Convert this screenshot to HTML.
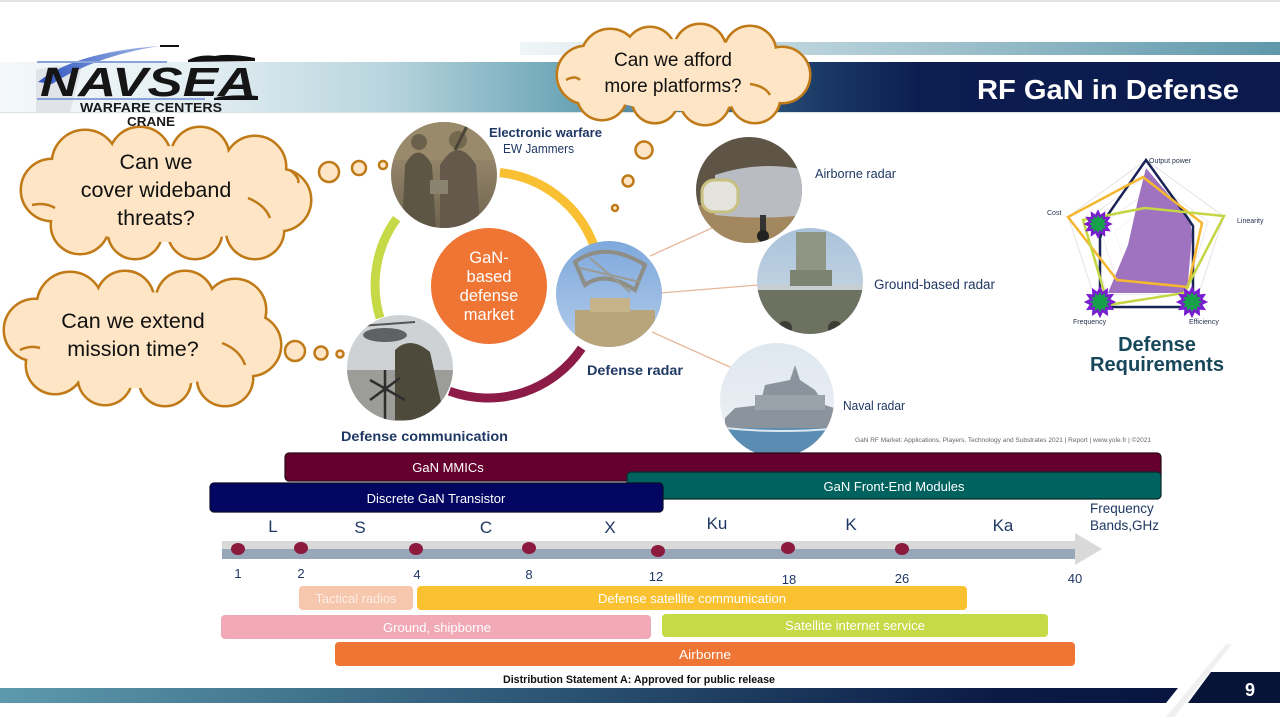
<!DOCTYPE html>
<html><head><meta charset="utf-8"><style>
html,body{margin:0;padding:0;background:#fff;}
body{width:1280px;height:717px;overflow:hidden;}
svg{display:block;font-family:"Liberation Sans",sans-serif;}
</style></head><body>
<svg width="1280" height="717" viewBox="0 0 1280 717" xmlns="http://www.w3.org/2000/svg">
<defs>
<linearGradient id="band" x1="0" x2="1" y1="0" y2="0">
<stop offset="0" stop-color="#f4f8fa"/><stop offset="0.15" stop-color="#e4eff3"/><stop offset="0.3" stop-color="#b9d5de"/><stop offset="0.44" stop-color="#6ea7b8"/><stop offset="0.56" stop-color="#3c6d8d"/><stop offset="0.64" stop-color="#1b3a67"/><stop offset="0.72" stop-color="#0c1d50"/><stop offset="1" stop-color="#0a1a4c"/>
</linearGradient>
<linearGradient id="thin" x1="0" x2="1"><stop offset="0" stop-color="#f0f6f8"/><stop offset="1" stop-color="#5f98ab"/></linearGradient>
<linearGradient id="bot" x1="0" x2="1"><stop offset="0" stop-color="#5d9aad"/><stop offset="0.45" stop-color="#2d5775"/><stop offset="0.85" stop-color="#0a1a45"/><stop offset="1" stop-color="#081640"/></linearGradient>
<linearGradient id="swoosh" x1="0" x2="1"><stop offset="0" stop-color="#2f55c0"/><stop offset="1" stop-color="#a9bde8"/></linearGradient>
<linearGradient id="ewg" x1="0" x2="0" y1="0" y2="1"><stop offset="0" stop-color="#a99778"/><stop offset="1" stop-color="#6d634f"/></linearGradient>
<linearGradient id="sky1" x1="0" x2="0" y1="0" y2="1"><stop offset="0" stop-color="#7ea8dc"/><stop offset="1" stop-color="#b4cdea"/></linearGradient>
<linearGradient id="sky2" x1="0" x2="0" y1="0" y2="1"><stop offset="0" stop-color="#a9c2da"/><stop offset="1" stop-color="#d1dde6"/></linearGradient>
<linearGradient id="sky3" x1="0" x2="0" y1="0" y2="1"><stop offset="0" stop-color="#dfe7ef"/><stop offset="1" stop-color="#eef2f5"/></linearGradient>
<clipPath id="cEW"><circle cx="444" cy="175" r="53"/></clipPath>
<clipPath id="cRad"><circle cx="609" cy="294" r="53"/></clipPath>
<clipPath id="cCom"><circle cx="400" cy="368" r="53"/></clipPath>
<clipPath id="cAir"><circle cx="749" cy="190" r="53"/></clipPath>
<clipPath id="cGnd"><circle cx="810" cy="281" r="53"/></clipPath>
<clipPath id="cNav"><circle cx="777" cy="400" r="57"/></clipPath>
<polygon id="star" points="12,0 7.7,2.1 10.4,6 5.7,5.7 6,10.4 2.1,7.7 0,12 -2.1,7.7 -6,10.4 -5.7,5.7 -10.4,6 -7.7,2.1 -12,0 -7.7,-2.1 -10.4,-6 -5.7,-5.7 -6,-10.4 -2.1,-7.7 0,-12 2.1,-7.7 6,-10.4 5.7,-5.7 10.4,-6 7.7,-2.1"/>
<polygon id="pent" points="0,-81.8 77.8,-25.3 48.1,66.2 -48.1,66.2 -77.8,-25.3"/>
</defs>

<rect x="0" y="0" width="1280" height="2" fill="#e4e4e4"/>
<rect x="520" y="42" width="760" height="13" fill="url(#thin)"/>
<rect x="0" y="62" width="1280" height="50" fill="url(#band)"/>
<rect x="0" y="112" width="1280" height="1" fill="#d8e4ea"/>

<!-- NAVSEA logo -->
<path d="M36,112 L36,70 Q60,64 82,66 L70,112 Z" fill="#dcdfe2" opacity="0.8"/>
<path d="M38,82 Q75,52 160,46 Q95,56 52,84 Z" fill="url(#swoosh)"/>
<rect x="160" y="45" width="19" height="2" fill="#111"/>
<rect x="37" y="61" width="130" height="2" fill="#8aa3d8"/>
<rect x="37" y="98" width="168" height="2" fill="#8aa3d8"/>
<path d="M188,60 Q200,54 215,56 Q230,53 255,58 L255,61 L188,62 Z" fill="#111"/>
<path d="M214,98 Q230,94 258,96 L258,100 L214,100 Z" fill="#111"/>
<text x="40" y="96" font-size="41" font-weight="bold" font-style="italic" fill="#151515" textLength="216" lengthAdjust="spacingAndGlyphs">NAVSEA</text>
<text x="151" y="112" font-size="12.5" font-weight="bold" fill="#1a1a1a" text-anchor="middle" textLength="142" lengthAdjust="spacingAndGlyphs">WARFARE  CENTERS</text>

<text x="1108" y="99" font-size="28" font-weight="bold" fill="#fff" text-anchor="middle" textLength="262" lengthAdjust="spacingAndGlyphs">RF GaN in Defense</text>

<!-- clouds -->
<g stroke="#c07a18" stroke-width="5" fill="#fde5c5">
 <circle cx="586" cy="75" r="28"/><circle cx="610" cy="58" r="28"/><circle cx="650" cy="52" r="24"/><circle cx="700" cy="50" r="25"/><circle cx="750" cy="52" r="25"/><circle cx="782" cy="75" r="27"/><circle cx="755" cy="98" r="24"/><circle cx="705" cy="100" r="24"/><circle cx="655" cy="100" r="22"/><circle cx="602" cy="95" r="24"/>
 <circle cx="52" cy="190" r="30"/><circle cx="85" cy="163" r="32"/><circle cx="140" cy="158" r="30"/><circle cx="200" cy="156" r="28"/><circle cx="255" cy="167" r="30"/><circle cx="280" cy="200" r="30"/><circle cx="255" cy="230" r="28"/><circle cx="195" cy="232" r="26"/><circle cx="135" cy="232" r="26"/><circle cx="80" cy="225" r="28"/>
 <circle cx="35" cy="330" r="30"/><circle cx="70" cy="305" r="32"/><circle cx="125" cy="300" r="28"/><circle cx="185" cy="300" r="28"/><circle cx="235" cy="310" r="30"/><circle cx="250" cy="345" r="30"/><circle cx="225" cy="378" r="27"/><circle cx="165" cy="380" r="25"/><circle cx="105" cy="378" r="26"/><circle cx="55" cy="365" r="28"/>
</g>
<g fill="#fde5c5">
 <circle cx="586" cy="75" r="28"/><circle cx="610" cy="58" r="28"/><circle cx="650" cy="52" r="24"/><circle cx="700" cy="50" r="25"/><circle cx="750" cy="52" r="25"/><circle cx="782" cy="75" r="27"/><circle cx="755" cy="98" r="24"/><circle cx="705" cy="100" r="24"/><circle cx="655" cy="100" r="22"/><circle cx="602" cy="95" r="24"/><ellipse cx="682" cy="75" rx="100" ry="36"/>
 <circle cx="52" cy="190" r="30"/><circle cx="85" cy="163" r="32"/><circle cx="140" cy="158" r="30"/><circle cx="200" cy="156" r="28"/><circle cx="255" cy="167" r="30"/><circle cx="280" cy="200" r="30"/><circle cx="255" cy="230" r="28"/><circle cx="195" cy="232" r="26"/><circle cx="135" cy="232" r="26"/><circle cx="80" cy="225" r="28"/><ellipse cx="165" cy="194" rx="125" ry="48"/>
 <circle cx="35" cy="330" r="30"/><circle cx="70" cy="305" r="32"/><circle cx="125" cy="300" r="28"/><circle cx="185" cy="300" r="28"/><circle cx="235" cy="310" r="30"/><circle cx="250" cy="345" r="30"/><circle cx="225" cy="378" r="27"/><circle cx="165" cy="380" r="25"/><circle cx="105" cy="378" r="26"/><circle cx="55" cy="365" r="28"/><ellipse cx="140" cy="340" rx="115" ry="48"/>
</g>
<g fill="none" stroke="#c07a18" stroke-width="2.5">
 <path d="M566,80 Q575,75 580,80"/><path d="M750,84 Q765,86 770,95"/>
 <path d="M32,205 Q45,202 55,208"/><path d="M248,198 Q265,205 270,218"/><path d="M290,170 Q300,178 298,183"/>
 <path d="M20,350 Q30,345 40,348"/><path d="M222,343 Q240,350 245,365"/>
</g>
<text x="151" y="126" font-size="12.5" font-weight="bold" fill="#1a1a1a" text-anchor="middle" textLength="48" lengthAdjust="spacingAndGlyphs">CRANE</text>
<g font-size="19" fill="#111" text-anchor="middle">
 <text x="673" y="66">Can we afford</text>
 <text x="673" y="92">more platforms?</text>
</g>
<g font-size="21.5" fill="#111" text-anchor="middle">
 <text x="156" y="169">Can we</text>
 <text x="156" y="197">cover wideband</text>
 <text x="156" y="225">threats?</text>
 <text x="133" y="328">Can we extend</text>
 <text x="133" y="356">mission time?</text>
</g>
<g fill="#fde5c5" stroke="#c07a18" stroke-width="2.5">
 <circle cx="329" cy="172" r="10"/><circle cx="359" cy="168" r="7"/><circle cx="383" cy="165" r="4"/>
 <circle cx="295" cy="351" r="10"/><circle cx="321" cy="353" r="6.5"/><circle cx="340" cy="354" r="3.5"/>
 <circle cx="644" cy="150" r="8.5"/><circle cx="628" cy="181" r="5.5"/><circle cx="615" cy="208" r="3"/>
</g>

<!-- ring arcs -->
<g fill="none" stroke-width="9">
 <path d="M499.8,172.6 A113,113 0 0 1 593.5,244.5" stroke="#f9c033"/>
 <path d="M396.6,218.6 A113,113 0 0 0 380,318" stroke="#c6d947"/>
 <path d="M449.4,391.2 A113,113 0 0 0 581.7,348.2" stroke="#8c1c47"/>
</g>
<g stroke="#e6b89c" stroke-width="1.3">
 <line x1="650" y1="256" x2="712" y2="228"/>
 <line x1="660" y1="293" x2="758" y2="285"/>
 <line x1="652" y1="332" x2="732" y2="368"/>
</g>
<circle cx="489" cy="286" r="58" fill="#ee7533"/>
<g font-size="16.5" fill="#fff" text-anchor="middle">
 <text x="489" y="263">GaN-</text><text x="489" y="282">based</text><text x="489" y="301">defense</text><text x="489" y="320">market</text>
</g>

<!-- photos -->
<g clip-path="url(#cEW)">
 <rect x="390" y="120" width="110" height="110" fill="url(#ewg)"/>
 <rect x="390" y="120" width="110" height="40" fill="#9a8a6c"/>
 <path d="M405,165 Q418,140 432,165 L436,230 L402,230 Z" fill="#5e5644"/>
 <circle cx="419" cy="142" r="8" fill="#6a604c"/>
 <path d="M440,165 Q458,135 476,165 L480,230 L440,230 Z" fill="#64594a"/>
 <circle cx="458" cy="140" r="9" fill="#73694f"/>
 <rect x="430" y="180" width="18" height="14" fill="#8a8370"/>
 <line x1="455" y1="150" x2="470" y2="120" stroke="#4a4538" stroke-width="3"/>
</g>
<g clip-path="url(#cRad)">
 <rect x="555" y="240" width="110" height="110" fill="url(#sky1)"/>
 <path d="M575,262 Q605,240 645,265 L635,290 Q605,270 585,285 Z" fill="none" stroke="#8e8e86" stroke-width="4"/>
 <path d="M580,268 L640,282 M590,258 L630,292" stroke="#9b9a92" stroke-width="2"/>
 <rect x="575" y="310" width="80" height="40" fill="#b9a57c"/>
 <rect x="590" y="298" width="40" height="14" fill="#c7b38a"/>
</g>
<g clip-path="url(#cCom)">
 <rect x="345" y="315" width="110" height="110" fill="#cfd2d5"/>
 <rect x="345" y="370" width="110" height="55" fill="#9c9c98"/>
 <ellipse cx="385" cy="335" rx="22" ry="7" fill="#5f6264"/>
 <line x1="360" y1="326" x2="415" y2="322" stroke="#555" stroke-width="2"/>
 <path d="M395,350 Q410,335 430,352 L445,420 L395,420 Z" fill="#4e4a3b"/>
 <path d="M370,380 L405,400 M370,400 L400,378 M385,370 L385,420" stroke="#2e2e2e" stroke-width="2.5"/>
</g>
<g clip-path="url(#cAir)">
 <rect x="695" y="135" width="110" height="110" fill="#5e5546"/>
 <rect x="695" y="205" width="110" height="40" fill="#a3875f"/>
 <path d="M715,175 Q760,160 805,170 L805,215 Q760,220 715,215 Z" fill="#b9bdc3"/>
 <rect x="702" y="180" width="36" height="32" rx="12" fill="#e4e4dc" stroke="#c8c080" stroke-width="3"/>
 <rect x="760" y="215" width="6" height="25" fill="#333"/>
 <circle cx="763" cy="236" r="6" fill="#222"/>
</g>
<g clip-path="url(#cGnd)">
 <rect x="755" y="226" width="110" height="110" fill="url(#sky2)"/>
 <rect x="755" y="285" width="110" height="12" fill="#c6ced4"/>
 <rect x="796" y="232" width="30" height="40" fill="#8f9683"/>
 <rect x="790" y="270" width="42" height="16" fill="#7d8371"/>
 <rect x="755" y="290" width="110" height="45" fill="#6d7260"/>
 <circle cx="785" cy="328" r="7" fill="#3c3e36"/><circle cx="835" cy="328" r="7" fill="#3c3e36"/>
</g>
<g clip-path="url(#cNav)">
 <rect x="718" y="342" width="118" height="118" fill="url(#sky3)"/>
 <path d="M725,418 L735,408 L760,405 L765,385 L790,380 L795,365 L800,380 L815,390 L825,405 L840,410 L840,430 L725,430 Z" fill="#8b939c"/>
 <rect x="755" y="395" width="70" height="15" fill="#9aa2aa"/>
 <rect x="718" y="428" width="118" height="32" fill="#5b8db3"/>
 <path d="M725,428 Q780,434 840,428" stroke="#dfe8ee" stroke-width="2" fill="none"/>
</g>

<g fill="#1f3864">
 <text x="489" y="137" font-size="13" font-weight="bold" textLength="113" lengthAdjust="spacingAndGlyphs">Electronic warfare</text>
 <text x="503" y="153" font-size="12.5" textLength="71" lengthAdjust="spacingAndGlyphs">EW Jammers</text>
 <text x="587" y="375" font-size="14" font-weight="bold" textLength="96" lengthAdjust="spacingAndGlyphs">Defense radar</text>
 <text x="341" y="441" font-size="14" font-weight="bold" textLength="167" lengthAdjust="spacingAndGlyphs">Defense communication</text>
 <text x="815" y="178" font-size="12.5" textLength="81" lengthAdjust="spacingAndGlyphs">Airborne radar</text>
 <text x="874" y="289" font-size="13.5" textLength="121" lengthAdjust="spacingAndGlyphs">Ground-based radar</text>
 <text x="843" y="410" font-size="12.5" textLength="62" lengthAdjust="spacingAndGlyphs">Naval radar</text>
</g>
<text x="855" y="442" font-size="6.5" fill="#666" textLength="296" lengthAdjust="spacingAndGlyphs">GaN RF Market: Applications, Players, Technology and Substrates 2021 | Report | www.yole.fr | ©2021</text>

<!-- radar chart -->
<g fill="none" stroke="#e4e4e4" stroke-width="1">
 <use href="#pent" transform="translate(1146,241.8)"/>
 <use href="#pent" transform="translate(1146,241.8) scale(0.8)"/>
 <use href="#pent" transform="translate(1146,241.8) scale(0.6)"/>
 <use href="#pent" transform="translate(1146,241.8) scale(0.4)"/>
 <use href="#pent" transform="translate(1146,241.8) scale(0.2)"/>
</g>
<polygon points="1146,168 1190,220 1192,235 1187,293 1108,293 1128,245 1138,200" fill="#8e5bb5" opacity="0.85"/>
<polygon points="1146,160 1187,217 1193,226 1193,307 1100,307 1100,238 1107,216" fill="none" stroke="#1a2356" stroke-width="2.5"/>
<polygon points="1143,177 1202,223 1188,287 1117,280 1068,217" fill="none" stroke="#f5b731" stroke-width="2.5"/>
<polygon points="1145,208 1224,216 1184,293 1108,305 1083,220" fill="none" stroke="#c5d645" stroke-width="2.5"/>
<g fill="#17a04a" stroke="#7a1dd0" stroke-width="2.4">
 <use href="#star" transform="translate(1098,224) scale(1.0)"/>
 <use href="#star" transform="translate(1100,302) scale(1.1)"/>
 <use href="#star" transform="translate(1192,302) scale(1.1)"/>
</g>
<g font-size="7" fill="#2a3550">
 <text x="1149" y="163">Output power</text>
 <text x="1237" y="223">Linearity</text>
 <text x="1047" y="215">Cost</text>
 <text x="1073" y="324">Frequency</text>
 <text x="1189" y="324">Efficiency</text>
</g>
<g font-size="20" font-weight="bold" fill="#17475b" text-anchor="middle">
 <text x="1157" y="351">Defense</text>
 <text x="1157" y="371" textLength="134" lengthAdjust="spacingAndGlyphs">Requirements</text>
</g>

<!-- technology bars -->
<rect x="285" y="453" width="876" height="28" rx="4" fill="#65002e" stroke="#2a0a18" stroke-width="1.2"/>
<rect x="627" y="472" width="534" height="27" rx="4" fill="#00625f" stroke="#0a2a2a" stroke-width="1.2"/>
<rect x="210" y="483" width="453" height="29" rx="4" fill="#020660" stroke="#0a0a2a" stroke-width="1.2"/>
<g font-size="13" fill="#fff" text-anchor="middle">
 <text x="448" y="472">GaN MMICs</text>
 <text x="894" y="491">GaN Front-End Modules</text>
 <text x="436" y="503">Discrete GaN Transistor</text>
</g>

<!-- frequency axis -->
<rect x="222" y="541" width="853" height="18" fill="#d9d9d9"/>
<polygon points="1075,533 1102,549 1075,565" fill="#d9d9d9"/>
<rect x="222" y="549" width="853" height="10" fill="#97a6b8"/>
<g fill="#8b1a3e">
 <ellipse cx="238" cy="549" rx="7" ry="6"/><ellipse cx="301" cy="548" rx="7" ry="6"/><ellipse cx="416" cy="549" rx="7" ry="6"/><ellipse cx="529" cy="548" rx="7" ry="6"/><ellipse cx="658" cy="551" rx="7" ry="6"/><ellipse cx="788" cy="548" rx="7" ry="6"/><ellipse cx="902" cy="549" rx="7" ry="6"/>
</g>
<g font-size="17" fill="#1f3864" text-anchor="middle">
 <text x="273" y="532">L</text><text x="360" y="533">S</text><text x="486" y="533">C</text><text x="610" y="533">X</text><text x="717" y="529">Ku</text><text x="851" y="530">K</text><text x="1003" y="531">Ka</text>
</g>
<g font-size="13" fill="#1f3864" text-anchor="middle">
 <text x="238" y="578">1</text><text x="301" y="578">2</text><text x="417" y="579">4</text><text x="529" y="579">8</text><text x="656" y="581">12</text><text x="789" y="584">18</text><text x="902" y="583">26</text><text x="1075" y="583">40</text>
</g>
<g font-size="13.5" fill="#1f3864">
 <text x="1090" y="513">Frequency</text>
 <text x="1090" y="530">Bands,GHz</text>
</g>

<!-- application bars -->
<rect x="299" y="586" width="114" height="24" rx="4" fill="#f6c6ad"/>
<rect x="417" y="586" width="550" height="24" rx="4" fill="#fac131"/>
<rect x="221" y="615" width="430" height="24" rx="4" fill="#f0a9b5"/>
<rect x="662" y="614" width="386" height="23" rx="4" fill="#c6d946"/>
<rect x="335" y="642" width="740" height="24" rx="4" fill="#ee7533"/>
<g font-size="13" fill="#fff" text-anchor="middle">
 <text x="356" y="603" fill="#fdeee6" textLength="81" lengthAdjust="spacingAndGlyphs">Tactical radios</text>
 <text x="692" y="603" textLength="188" lengthAdjust="spacingAndGlyphs">Defense satellite communication</text>
 <text x="437" y="632" textLength="108" lengthAdjust="spacingAndGlyphs">Ground, shipborne</text>
 <text x="855" y="630" textLength="140" lengthAdjust="spacingAndGlyphs">Satellite internet service</text>
 <text x="705" y="659" textLength="52" lengthAdjust="spacingAndGlyphs">Airborne</text>
</g>

<text x="639" y="683" font-size="11" font-weight="bold" fill="#111" text-anchor="middle" textLength="272" lengthAdjust="spacingAndGlyphs">Distribution Statement A: Approved for public release</text>

<!-- bottom band -->
<polygon points="0,688 1178,688 1166,703 0,703" fill="url(#bot)"/>
<polygon points="1166,717 1174,717 1232,644 1226,644" fill="#e6e6e6" opacity="0.6"/>
<polygon points="1211,672 1280,672 1280,703 1188,703" fill="#071437"/>
<text x="1250" y="696" font-size="18" font-weight="bold" fill="#fff" text-anchor="middle">9</text>
</svg>
</body></html>
